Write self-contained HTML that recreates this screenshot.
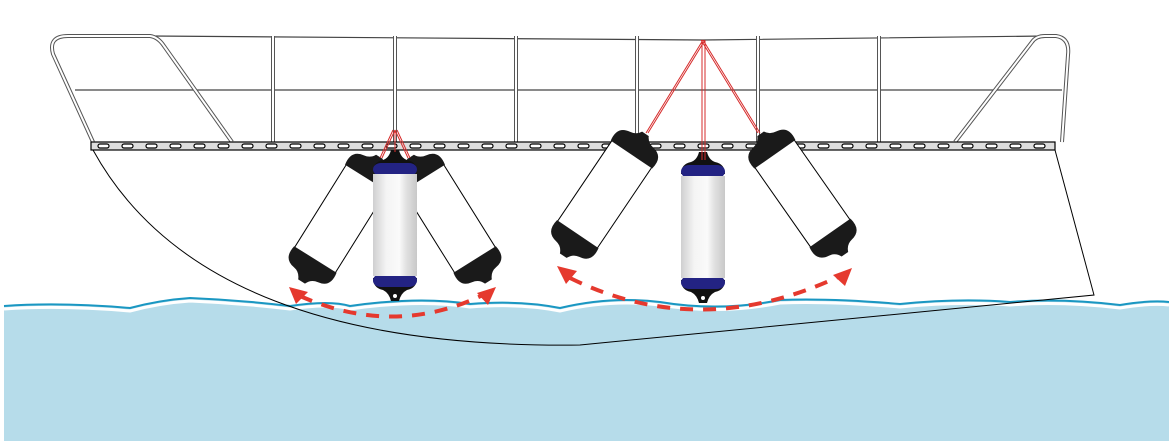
<!DOCTYPE html>
<html><head><meta charset="utf-8"><style>html,body{margin:0;padding:0;background:#fff;width:1169px;height:441px;overflow:hidden}</style></head>
<body>
<svg width="1169" height="441" viewBox="0 0 1169 441" xmlns="http://www.w3.org/2000/svg">
<defs>
<linearGradient id="g" x1="0" x2="1" y1="0" y2="0">
<stop offset="0" stop-color="#cfcfd0"/><stop offset="0.3" stop-color="#f4f4f4"/><stop offset="0.6" stop-color="#fafafa"/><stop offset="0.75" stop-color="#e2e2e2"/><stop offset="1" stop-color="#c8c8c8"/>
</linearGradient>
<g id="tf">
<rect x="-24" y="18" width="48" height="112" fill="#fff" stroke="#000" stroke-width="1"/>
<path d="M-25,26 Q-28,10 -14,8 Q-7,7 -4,1 L4,1 Q7,7 14,8 Q28,10 25,26 Z" fill="#1a1a1a"/>
<path d="M-25,122 Q-28,138 -14,140 Q-7,141 -4,148 L4,148 Q7,141 14,140 Q28,138 25,122 Z" fill="#1a1a1a"/>
</g>
<g id="vf">
<path d="M-22,22 Q-22,12 -12,10 Q-6,8 -4,0 L4,0 Q6,8 12,10 Q22,12 22,22 Z" fill="#111"/>
<path d="M-22,128 Q-22,138 -12,140 Q-6,143 -4,151 L4,151 Q6,143 12,140 Q22,138 22,128 Z" fill="#111"/>
<rect x="-22" y="13" width="44" height="13" rx="8" fill="#232383"/>
<rect x="-22" y="124" width="44" height="13" rx="8" fill="#232383"/>
<rect x="-22" y="24" width="44" height="102" fill="url(#g)"/>
<circle cx="0" cy="146" r="2" fill="#fff"/>
</g>
</defs>
<path d="M4,306 Q60,302 130,308 Q160,300 190,298 Q240,300 290,306 Q330,300 350,306 Q420,296 470,304 Q520,300 560,308 Q610,296 660,302 Q720,312 780,300 Q830,298 900,304 Q960,298 1010,302 Q1060,298 1120,305 Q1150,300 1169,302 L1169,441 L4,441 Z" fill="#b6dcea"/>
<path d="M4,306 Q60,302 130,308 Q160,300 190,298 Q240,300 290,306 Q330,300 350,306 Q420,296 470,304 Q520,300 560,308 Q610,296 660,302 Q720,312 780,300 Q830,298 900,304 Q960,298 1010,302 Q1060,298 1120,305 Q1150,300 1169,302" fill="none" stroke="#fff" stroke-width="3" transform="translate(0,3)"/>
<path d="M4,306 Q60,302 130,308 Q160,300 190,298 Q240,300 290,306 Q330,300 350,306 Q420,296 470,304 Q520,300 560,308 Q610,296 660,302 Q720,312 780,300 Q830,298 900,304 Q960,298 1010,302 Q1060,298 1120,305 Q1150,300 1169,302" fill="none" stroke="#1a97c2" stroke-width="2"/>
<path d="M93,150 C170,290 340,348 580,345 L1094,295 L1055,150" fill="none" stroke="#000" stroke-width="1"/>
<g fill="none" stroke="#444" stroke-width="1.2">
<path d="M150,36 L703,40 L1045,36"/>
<path d="M75,90 L1062,90"/>
</g>
<g fill="none" stroke="#555" stroke-width="4"><path d="M93,142 L53,54 Q48,36 68,36 L150,36 Q158,37 164,46 L232,142"/><path d="M955,142 L1032,42 Q1036,36 1045,36 L1056,36 Q1070,38 1068,55 L1062,142"/>
<path d="M273,36V142M395,36V142M516,36V142M637,36V142M758,36V142M879,36V142"/></g>
<g fill="none" stroke="#fff" stroke-width="2"><path d="M93,142 L53,54 Q48,36 68,36 L150,36 Q158,37 164,46 L232,142"/><path d="M955,142 L1032,42 Q1036,36 1045,36 L1056,36 Q1070,38 1068,55 L1062,142"/>
<path d="M273,36V142M395,36V142M516,36V142M637,36V142M758,36V142M879,36V142"/></g>
<rect x="91" y="142" width="964" height="8" fill="#ddd" stroke="#000" stroke-width="1.2"/>
<g fill="#fff" stroke="#000" stroke-width="1.2">
<rect x="98" y="144" width="11" height="4" rx="2"/><rect x="122" y="144" width="11" height="4" rx="2"/><rect x="146" y="144" width="11" height="4" rx="2"/><rect x="170" y="144" width="11" height="4" rx="2"/><rect x="194" y="144" width="11" height="4" rx="2"/><rect x="218" y="144" width="11" height="4" rx="2"/><rect x="242" y="144" width="11" height="4" rx="2"/><rect x="266" y="144" width="11" height="4" rx="2"/><rect x="290" y="144" width="11" height="4" rx="2"/><rect x="314" y="144" width="11" height="4" rx="2"/><rect x="338" y="144" width="11" height="4" rx="2"/><rect x="362" y="144" width="11" height="4" rx="2"/><rect x="386" y="144" width="11" height="4" rx="2"/><rect x="410" y="144" width="11" height="4" rx="2"/><rect x="434" y="144" width="11" height="4" rx="2"/><rect x="458" y="144" width="11" height="4" rx="2"/><rect x="482" y="144" width="11" height="4" rx="2"/><rect x="506" y="144" width="11" height="4" rx="2"/><rect x="530" y="144" width="11" height="4" rx="2"/><rect x="554" y="144" width="11" height="4" rx="2"/><rect x="578" y="144" width="11" height="4" rx="2"/><rect x="602" y="144" width="11" height="4" rx="2"/><rect x="626" y="144" width="11" height="4" rx="2"/><rect x="650" y="144" width="11" height="4" rx="2"/><rect x="674" y="144" width="11" height="4" rx="2"/><rect x="698" y="144" width="11" height="4" rx="2"/><rect x="722" y="144" width="11" height="4" rx="2"/><rect x="746" y="144" width="11" height="4" rx="2"/><rect x="770" y="144" width="11" height="4" rx="2"/><rect x="794" y="144" width="11" height="4" rx="2"/><rect x="818" y="144" width="11" height="4" rx="2"/><rect x="842" y="144" width="11" height="4" rx="2"/><rect x="866" y="144" width="11" height="4" rx="2"/><rect x="890" y="144" width="11" height="4" rx="2"/><rect x="914" y="144" width="11" height="4" rx="2"/><rect x="938" y="144" width="11" height="4" rx="2"/><rect x="962" y="144" width="11" height="4" rx="2"/><rect x="986" y="144" width="11" height="4" rx="2"/><rect x="1010" y="144" width="11" height="4" rx="2"/><rect x="1034" y="144" width="11" height="4" rx="2"/>
</g>
<use href="#tf" transform="translate(380,156) rotate(32)"/>
<use href="#tf" transform="translate(410,156) rotate(-32)"/>
<use href="#vf" transform="translate(395,150)"/>
<use href="#tf" transform="translate(646,133) rotate(34)"/>
<use href="#tf" transform="translate(760,133) rotate(-35)"/>
<use href="#vf" transform="translate(703,152)"/>
<g stroke="#d62b2b" stroke-width="1" fill="none">
<path d="M395,130 L382,158 M395,130 L395,152 M395,130 L408,158 M393,130 L380,158 M397,130 L410,158"/>
<path d="M703,40 L646,133 M705,40 L648,133 M702,40 V160 M705,40 V160 M703,40 L760,133 M701,40 L758,133"/>
</g>
<g stroke="#e5392e" stroke-width="4" fill="none" stroke-dasharray="13,10">
<path d="M300,296 Q395,338 485,294"/>
<path d="M570,278 Q700,342 840,276"/>
</g>
<g fill="#e5392e">
<path d="M289,287 L308,292 L296,304 Z"/>
<path d="M496,287 L488,305 L477,293 Z"/>
<path d="M557,266 L577,271 L566,284 Z"/>
<path d="M852,268 L845,286 L833,275 Z"/>
</g>
</svg>
</body></html>
